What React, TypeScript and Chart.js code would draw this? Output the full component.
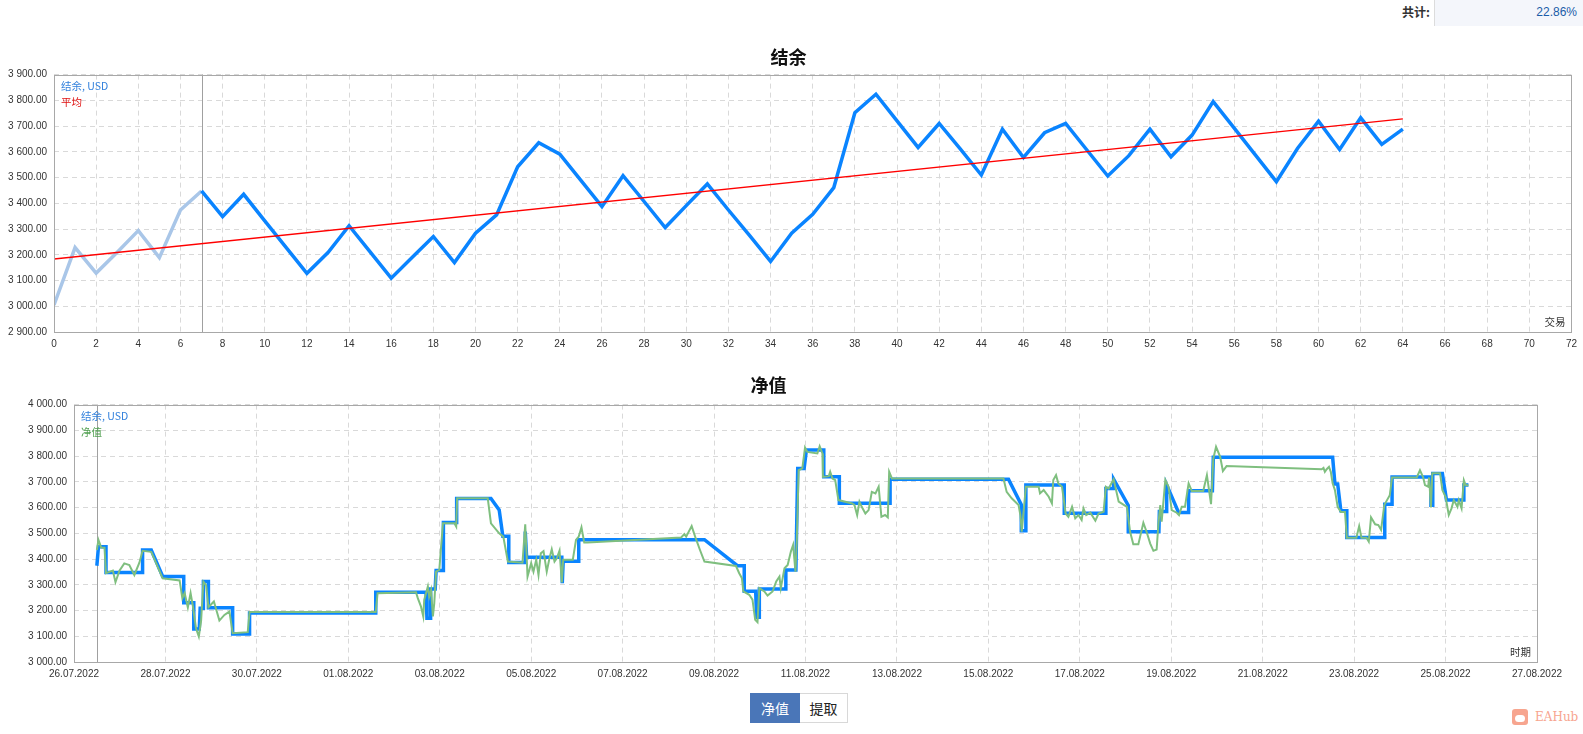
import React, { useEffect, useRef } from 'react';
import { Chart, registerables } from 'chart.js';

Chart.register(...registerables);

// ---------- Top chart: balance by trade ----------
const tradeBalance = [
  3005, 3228, 3129, 3210, 3294, 3189, 3374, 3448, 3348, 3435,
  3332, 3230, 3128, 3209, 3313, 3211, 3109, 3190, 3271, 3170,
  3284, 3355, 3542, 3635, 3591, 3489, 3387, 3507, 3407, 3306,
  3391, 3475, 3374, 3275, 3174, 3284, 3357, 3461, 3752, 3824,
  3720, 3617, 3710, 3611, 3510, 3688, 3578, 3674, 3710, 3608,
  3506, 3585, 3688, 3581, 3665, 3795, 3692, 3588, 3484, 3613,
  3719, 3609, 3732, 3629, 3688,
];
const trendTrades = [0, 64];
const trendValues = [3184, 3728];
const tradeAxisMax = 72;
const firstTrade = 7;

// ---------- Bottom chart: balance & equity by time (days since 26.07.2022) ----------
const balanceDays = [
  0.5, 0.535, 0.7, 0.7, 1.5, 1.5, 1.69, 1.94, 2.4, 2.4,
  2.62, 2.62, 2.74, 2.76, 2.83, 2.83, 2.94, 2.94, 3.47, 3.47,
  3.84, 3.84, 6.6, 6.6, 7.7, 7.72, 7.8, 7.8, 7.9, 7.92,
  8.08, 8.08, 8.37, 8.37, 9.12, 9.3, 9.38, 9.51, 9.51, 9.87,
  9.87, 9.9, 10.67, 10.68, 10.7, 11.04, 11.04, 13.79, 14.51, 14.66,
  14.66, 14.91, 14.93, 14.99, 14.99, 15.56, 15.57, 15.79, 15.8, 15.83,
  15.97, 16.02, 16.4, 16.4, 16.74, 16.74, 17.85, 17.85, 20.44, 20.72,
  20.72, 20.82, 20.82, 21.66, 21.66, 22.57, 22.57, 22.74, 22.74, 23.06,
  23.06, 23.73, 23.74, 23.9, 23.9, 24.16, 24.38, 24.38, 24.9, 24.92,
  27.53, 27.58, 27.64, 27.71, 27.84, 27.84, 28.67, 28.67, 28.83, 28.83,
  29.68, 29.68, 29.72, 29.72, 29.93, 30.02, 30.39, 30.4, 30.5,
];
const balanceLevels = [
  3374, 3448, 3448, 3348, 3348, 3435, 3435, 3332, 3332, 3230,
  3230, 3128, 3128, 3209, 3209, 3313, 3313, 3211, 3211, 3109,
  3109, 3190, 3190, 3271, 3271, 3170, 3170, 3284, 3284, 3355,
  3355, 3542, 3542, 3635, 3635, 3591, 3489, 3489, 3387, 3387,
  3507, 3407, 3407, 3306, 3391, 3391, 3475, 3475, 3374, 3374,
  3275, 3275, 3174, 3174, 3284, 3284, 3357, 3357, 3461, 3752,
  3752, 3824, 3824, 3720, 3720, 3617, 3617, 3710, 3710, 3611,
  3510, 3510, 3688, 3688, 3578, 3578, 3674, 3674, 3710, 3608,
  3506, 3506, 3585, 3585, 3688, 3581, 3581, 3665, 3665, 3795,
  3795, 3692, 3692, 3588, 3588, 3484, 3484, 3613, 3613, 3719,
  3719, 3609, 3609, 3732, 3732, 3629, 3629, 3688, 3688,
];
const equityDays = [
  0.5, 0.535, 0.594, 0.667, 0.7, 0.85, 0.907, 0.994, 1.1, 1.21,
  1.32, 1.43, 1.5, 1.69, 1.94, 2.31, 2.37, 2.42, 2.49, 2.55,
  2.6, 2.67, 2.73, 2.78, 2.83, 2.89, 2.94, 3.06, 3.18, 3.29,
  3.4, 3.47, 3.8, 3.84, 6.6, 6.64, 7.48, 7.52, 7.59, 7.64,
  7.66, 7.74, 7.77, 7.81, 7.85, 7.88, 7.92, 7.99, 8.07, 8.32,
  8.36, 8.38, 9.05, 9.12, 9.3, 9.39, 9.49, 9.81, 9.87, 9.92,
  10.0, 10.05, 10.11, 10.16, 10.21, 10.27, 10.34, 10.4, 10.45, 10.51,
  10.56, 10.62, 10.67, 10.7, 10.91, 10.98, 11.04, 11.1, 11.16, 11.23,
  13.28, 13.35, 13.39, 13.51, 13.6, 13.69, 13.79, 14.48, 14.55, 14.61,
  14.64, 14.77, 14.84, 14.9, 14.95, 14.99, 15.1, 15.17, 15.28, 15.36,
  15.43, 15.46, 15.54, 15.61, 15.68, 15.73, 15.78, 15.81, 15.85, 15.93,
  15.99, 16.04, 16.26, 16.31, 16.37, 16.38, 16.51, 16.54, 16.59, 16.65,
  16.72, 17.02, 17.07, 17.13, 17.18, 17.23, 17.31, 17.38, 17.45, 17.53,
  17.6, 17.66, 17.74, 17.8, 17.83, 17.89, 20.33, 20.4, 20.51, 20.66,
  20.7, 20.73, 20.82, 21.1, 21.13, 21.21, 21.32, 21.39, 21.42, 21.48,
  21.53, 21.61, 21.69, 21.75, 21.83, 21.9, 21.97, 22.04, 22.08, 22.14,
  22.23, 22.34, 22.41, 22.52, 22.57, 22.63, 22.74, 22.85, 23.03, 23.1,
  23.17, 23.28, 23.39, 23.46, 23.54, 23.61, 23.68, 23.72, 23.76, 23.79,
  23.87, 23.94, 24.01, 24.12, 24.17, 24.23, 24.3, 24.38, 24.45, 24.7,
  24.78, 24.87, 24.92, 24.98, 25.07, 25.13, 25.21, 27.29, 27.33, 27.36,
  27.4, 27.45, 27.49, 27.53, 27.58, 27.64, 27.71, 27.8, 27.84, 28.05,
  28.11, 28.16, 28.27, 28.32, 28.37, 28.46, 28.53, 28.59, 28.66, 28.71,
  28.78, 28.83, 29.37, 29.44, 29.51, 29.55, 29.62, 29.64, 29.68, 29.71,
  29.88, 29.93, 30.0, 30.07, 30.13, 30.18, 30.26, 30.29, 30.35, 30.4,
  30.44, 30.5,
];
const equityLevels = [
  3435, 3474, 3445, 3444, 3345, 3355, 3310, 3355, 3383, 3377,
  3338, 3386, 3432, 3428, 3325, 3317, 3248, 3268, 3212, 3268,
  3217, 3130, 3099, 3160, 3312, 3299, 3213, 3235, 3161, 3183,
  3196, 3112, 3116, 3194, 3194, 3267, 3271, 3248, 3215, 3177,
  3241, 3293, 3254, 3280, 3177, 3228, 3351, 3358, 3539, 3539,
  3526, 3636, 3636, 3539, 3500, 3487, 3390, 3386, 3535, 3332,
  3384, 3351, 3397, 3338, 3422, 3431, 3351, 3403, 3438, 3390,
  3403, 3433, 3309, 3397, 3397, 3474, 3487, 3523, 3464, 3464,
  3484, 3497, 3487, 3528, 3480, 3436, 3390, 3373, 3345, 3325,
  3274, 3261, 3242, 3164, 3155, 3287, 3274, 3258, 3274, 3313,
  3332, 3287, 3364, 3377, 3429, 3455, 3351, 3474, 3745, 3752,
  3833, 3816, 3810, 3838, 3810, 3719, 3722, 3739, 3713, 3707,
  3629, 3616, 3610, 3571, 3623, 3603, 3577, 3590, 3661, 3655,
  3681, 3564, 3571, 3562, 3739, 3713, 3713, 3661, 3636, 3610,
  3571, 3506, 3681, 3681, 3655, 3668, 3642, 3616, 3707, 3726,
  3694, 3681, 3577, 3564, 3603, 3558, 3571, 3552, 3597, 3571,
  3580, 3549, 3577, 3584, 3681, 3674, 3710, 3623, 3603, 3506,
  3457, 3457, 3541, 3506, 3460, 3432, 3437, 3538, 3610, 3545,
  3707, 3681, 3590, 3580, 3571, 3603, 3603, 3694, 3664, 3664,
  3726, 3613, 3790, 3836, 3797, 3742, 3761, 3749, 3754, 3739,
  3749, 3758, 3739, 3694, 3668, 3603, 3583, 3583, 3483, 3483,
  3528, 3483, 3483, 3468, 3562, 3535, 3532, 3513, 3610, 3626,
  3648, 3717, 3717, 3745, 3717, 3687, 3681, 3717, 3600, 3733,
  3733, 3668, 3642, 3571, 3597, 3629, 3603, 3629, 3597, 3706,
  3687, 3687,
];
const periodDays = 32;
const periodStartDay = 0.5;
const periodBaseDate = Date.UTC(2022, 6, 26);

const totalLabel = '共计:';
const totalValue = '22.86%';

// ---------- helpers ----------
const TICK_FONT = { family: '"Liberation Sans", Arial, sans-serif', size: 10 };
const CJK = '"Noto Sans CJK SC", "Noto Sans", sans-serif';

function fmtMoney(v: number) {
  const n = Math.round(v);
  const th = Math.floor(n / 1000);
  const rest = String(n % 1000).padStart(3, '0');
  return `${th} ${rest}.00`;
}
function fmtDate(v: number) {
  const d = new Date(periodBaseDate + Math.round(v) * 86400000);
  const dd = String(d.getUTCDate()).padStart(2, '0');
  const mm = String(d.getUTCMonth() + 1).padStart(2, '0');
  return `${dd}.${mm}.${d.getUTCFullYear()}`;
}

function decorPlugin(opts: {
  marker: number;
  labels: { text: string; color: string }[];
  corner: string;
}) {
  return {
    id: 'decor',
    beforeDatasetsDraw(chart: any) {
      const { ctx, chartArea } = chart;
      const x = chart.scales.x.getPixelForValue(opts.marker);
      ctx.save();
      ctx.strokeStyle = '#a0a0a0';
      ctx.lineWidth = 1;
      ctx.beginPath();
      ctx.moveTo(Math.round(x) + 0.5, chartArea.top);
      ctx.lineTo(Math.round(x) + 0.5, chartArea.bottom);
      ctx.stroke();
      ctx.restore();
    },
    afterDraw(chart: any) {
      const { ctx, chartArea } = chart;
      ctx.save();
      ctx.strokeStyle = '#a8a8a8';
      ctx.lineWidth = 1;
      ctx.strokeRect(
        Math.round(chartArea.left) + 0.5,
        Math.round(chartArea.top) + 0.5,
        Math.round(chartArea.right - chartArea.left),
        Math.round(chartArea.bottom - chartArea.top)
      );
      ctx.font = `10.5px ${CJK}`;
      ctx.textBaseline = 'middle';
      ctx.textAlign = 'left';
      opts.labels.forEach((l, i) => {
        ctx.fillStyle = l.color;
        ctx.fillText(l.text, chartArea.left + 7, chartArea.top + 11 + i * 16);
      });
      ctx.fillStyle = '#333';
      ctx.textAlign = 'right';
      ctx.fillText(opts.corner, chartArea.right - 6, chartArea.bottom - 10);
      ctx.restore();
    },
  };
}

function axisY(min: number, max: number, width: number) {
  return {
    type: 'linear' as const,
    min,
    max,
    afterFit: (s: any) => { s.width = width; },
    ticks: {
      stepSize: 100,
      padding: 7,
      color: '#333',
      font: TICK_FONT,
      callback: (v: any) => fmtMoney(Number(v)),
    },
    grid: { color: '#d9d9d9', drawTicks: false, lineWidth: 1 },
    border: { display: false, dash: [5, 4] },
  };
}

function axisX(max: number, cb: (v: number) => string) {
  return {
    type: 'linear' as const,
    min: 0,
    max,
    afterFit: (s: any) => { s.height = 18; },
    ticks: {
      stepSize: 2,
      autoSkip: false,
      maxRotation: 0,
      padding: 6,
      color: '#333',
      font: TICK_FONT,
      callback: (v: any) => cb(Number(v)),
    },
    grid: { color: '#d9d9d9', drawTicks: false, lineWidth: 1 },
    border: { display: false, dash: [5, 4] },
  };
}

export default function App() {
  const topRef = useRef<HTMLCanvasElement | null>(null);
  const botRef = useRef<HTMLCanvasElement | null>(null);

  useEffect(() => {
    document.body.style.margin = '0';
    const blue = '#0a84ff';
    const lightBlue = '#a9c6e8';

    const top = new Chart(topRef.current as HTMLCanvasElement, {
      type: 'line',
      data: {
        datasets: [
          {
            label: '平均',
            data: trendTrades.map((t, i) => ({ x: t, y: trendValues[i] })),
            borderColor: '#ff0000',
            borderWidth: 1.5,
            pointRadius: 0,
            tension: 0,
          },
          {
            label: '结余, USD',
            data: tradeBalance.map((v, i) => ({ x: i, y: v })),
            borderColor: blue,
            borderWidth: 3.5,
            pointRadius: 0,
            tension: 0,
            segment: {
              borderColor: (c: any) => (c.p0DataIndex < firstTrade ? lightBlue : blue),
            },
          },
        ],
      },
      options: {
        responsive: false,
        animation: false,
        layout: { padding: { left: 0, right: 6, top: 0, bottom: 0 } },
        plugins: {
          legend: { display: false },
          tooltip: { enabled: false },
          title: {
            display: true,
            text: '结余',
            color: '#111',
            font: { family: CJK, size: 18, weight: 'bold' },
            padding: { top: 16, bottom: 7 },
          },
        },
        scales: {
          x: axisX(tradeAxisMax, (v) => String(v)),
          y: axisY(2900, 3900, 54),
        },
      },
      plugins: [
        decorPlugin({
          marker: firstTrade,
          labels: [
            { text: '结余, USD', color: '#2f7fdc' },
            { text: '平均', color: '#e01010' },
          ],
          corner: '交易',
        }),
      ],
    } as any);

    const bot = new Chart(botRef.current as HTMLCanvasElement, {
      type: 'line',
      data: {
        datasets: [
          {
            label: '净值',
            data: equityDays.map((d, i) => ({ x: d, y: equityLevels[i] })),
            borderColor: '#7fbf7f',
            borderWidth: 2,
            pointRadius: 0,
            tension: 0,
          },
          {
            label: '结余, USD',
            data: balanceDays.map((d, i) => ({ x: d, y: balanceLevels[i] })),
            borderColor: blue,
            borderWidth: 3.5,
            pointRadius: 0,
            tension: 0,
          },
        ],
      },
      options: {
        responsive: false,
        animation: false,
        layout: { padding: { left: 0, right: 46, top: 0, bottom: 0 } },
        plugins: {
          legend: { display: false },
          tooltip: { enabled: false },
          title: {
            display: true,
            text: '净值',
            color: '#111',
            font: { family: CJK, size: 18, weight: 'bold' },
            padding: { top: 14, bottom: 9 },
          },
        },
        scales: {
          x: axisX(periodDays, fmtDate),
          y: axisY(3000, 4000, 74),
        },
      },
      plugins: [
        decorPlugin({
          marker: periodStartDay,
          labels: [
            { text: '结余, USD', color: '#2f7fdc' },
            { text: '净值', color: '#4f9f4f' },
          ],
          corner: '时期',
        }),
      ],
    } as any);

    return () => {
      top.destroy();
      bot.destroy();
    };
  }, []);

  return (
    <div
      style={{
        position: 'relative',
        width: 1583,
        height: 734,
        overflow: 'hidden',
        background: '#fff',
        fontFamily: CJK,
      }}
    >
      <div
        style={{
          position: 'absolute',
          left: 1370,
          top: 0,
          width: 60,
          height: 26,
          lineHeight: '24px',
          textAlign: 'right',
          fontSize: 12,
          fontWeight: 'bold',
          color: '#333',
        }}
      >
        {totalLabel}
      </div>
      <div
        style={{
          position: 'absolute',
          left: 1434,
          top: 0,
          width: 149,
          height: 26,
          background: '#f4f6fb',
          borderLeft: '1px solid #dcdcdc',
          boxSizing: 'border-box',
          lineHeight: '24px',
          textAlign: 'right',
          paddingRight: 6,
          fontSize: 12,
          color: '#1a5ca8',
          fontFamily: '"Liberation Sans", Arial, sans-serif',
        }}
      >
        {totalValue}
      </div>
      <canvas
        ref={topRef}
        width={1583}
        height={320}
        style={{ position: 'absolute', left: 0, top: 30, width: 1583, height: 320 }}
      />
      <canvas
        ref={botRef}
        width={1583}
        height={320}
        style={{ position: 'absolute', left: 0, top: 360, width: 1583, height: 320 }}
      />
      <div style={{ position: 'absolute', left: 750, top: 693, display: 'flex', height: 30 }}>
        <div
          style={{
            width: 50,
            height: 30,
            background: '#4a76b8',
            color: '#fff',
            fontSize: 14,
            lineHeight: '30px',
            textAlign: 'center',
          }}
        >
          净值
        </div>
        <div
          style={{
            width: 48,
            height: 30,
            boxSizing: 'border-box',
            border: '1px solid #d8d8d8',
            borderLeft: 'none',
            background: '#fff',
            color: '#222',
            fontSize: 14,
            lineHeight: '28px',
            textAlign: 'center',
          }}
        >
          提取
        </div>
      </div>
      <div
        style={{
          position: 'absolute',
          left: 1512,
          top: 709,
          display: 'flex',
          alignItems: 'center',
          height: 16,
        }}
      >
        <div
          style={{
            width: 16,
            height: 16,
            borderRadius: 3,
            background: '#f7a58f',
            position: 'relative',
          }}
        >
          <div
            style={{
              position: 'absolute',
              left: 3,
              top: 6,
              width: 10,
              height: 7,
              borderRadius: 4,
              background: '#fff',
            }}
          />
        </div>
        <div
          style={{
            marginLeft: 7,
            fontFamily: '"DejaVu Serif", "Liberation Serif", serif',
            fontSize: 12,
            fontWeight: 'normal',
            color: '#f7a58f',
          }}
        >
          EAHub
        </div>
      </div>
    </div>
  );
}
